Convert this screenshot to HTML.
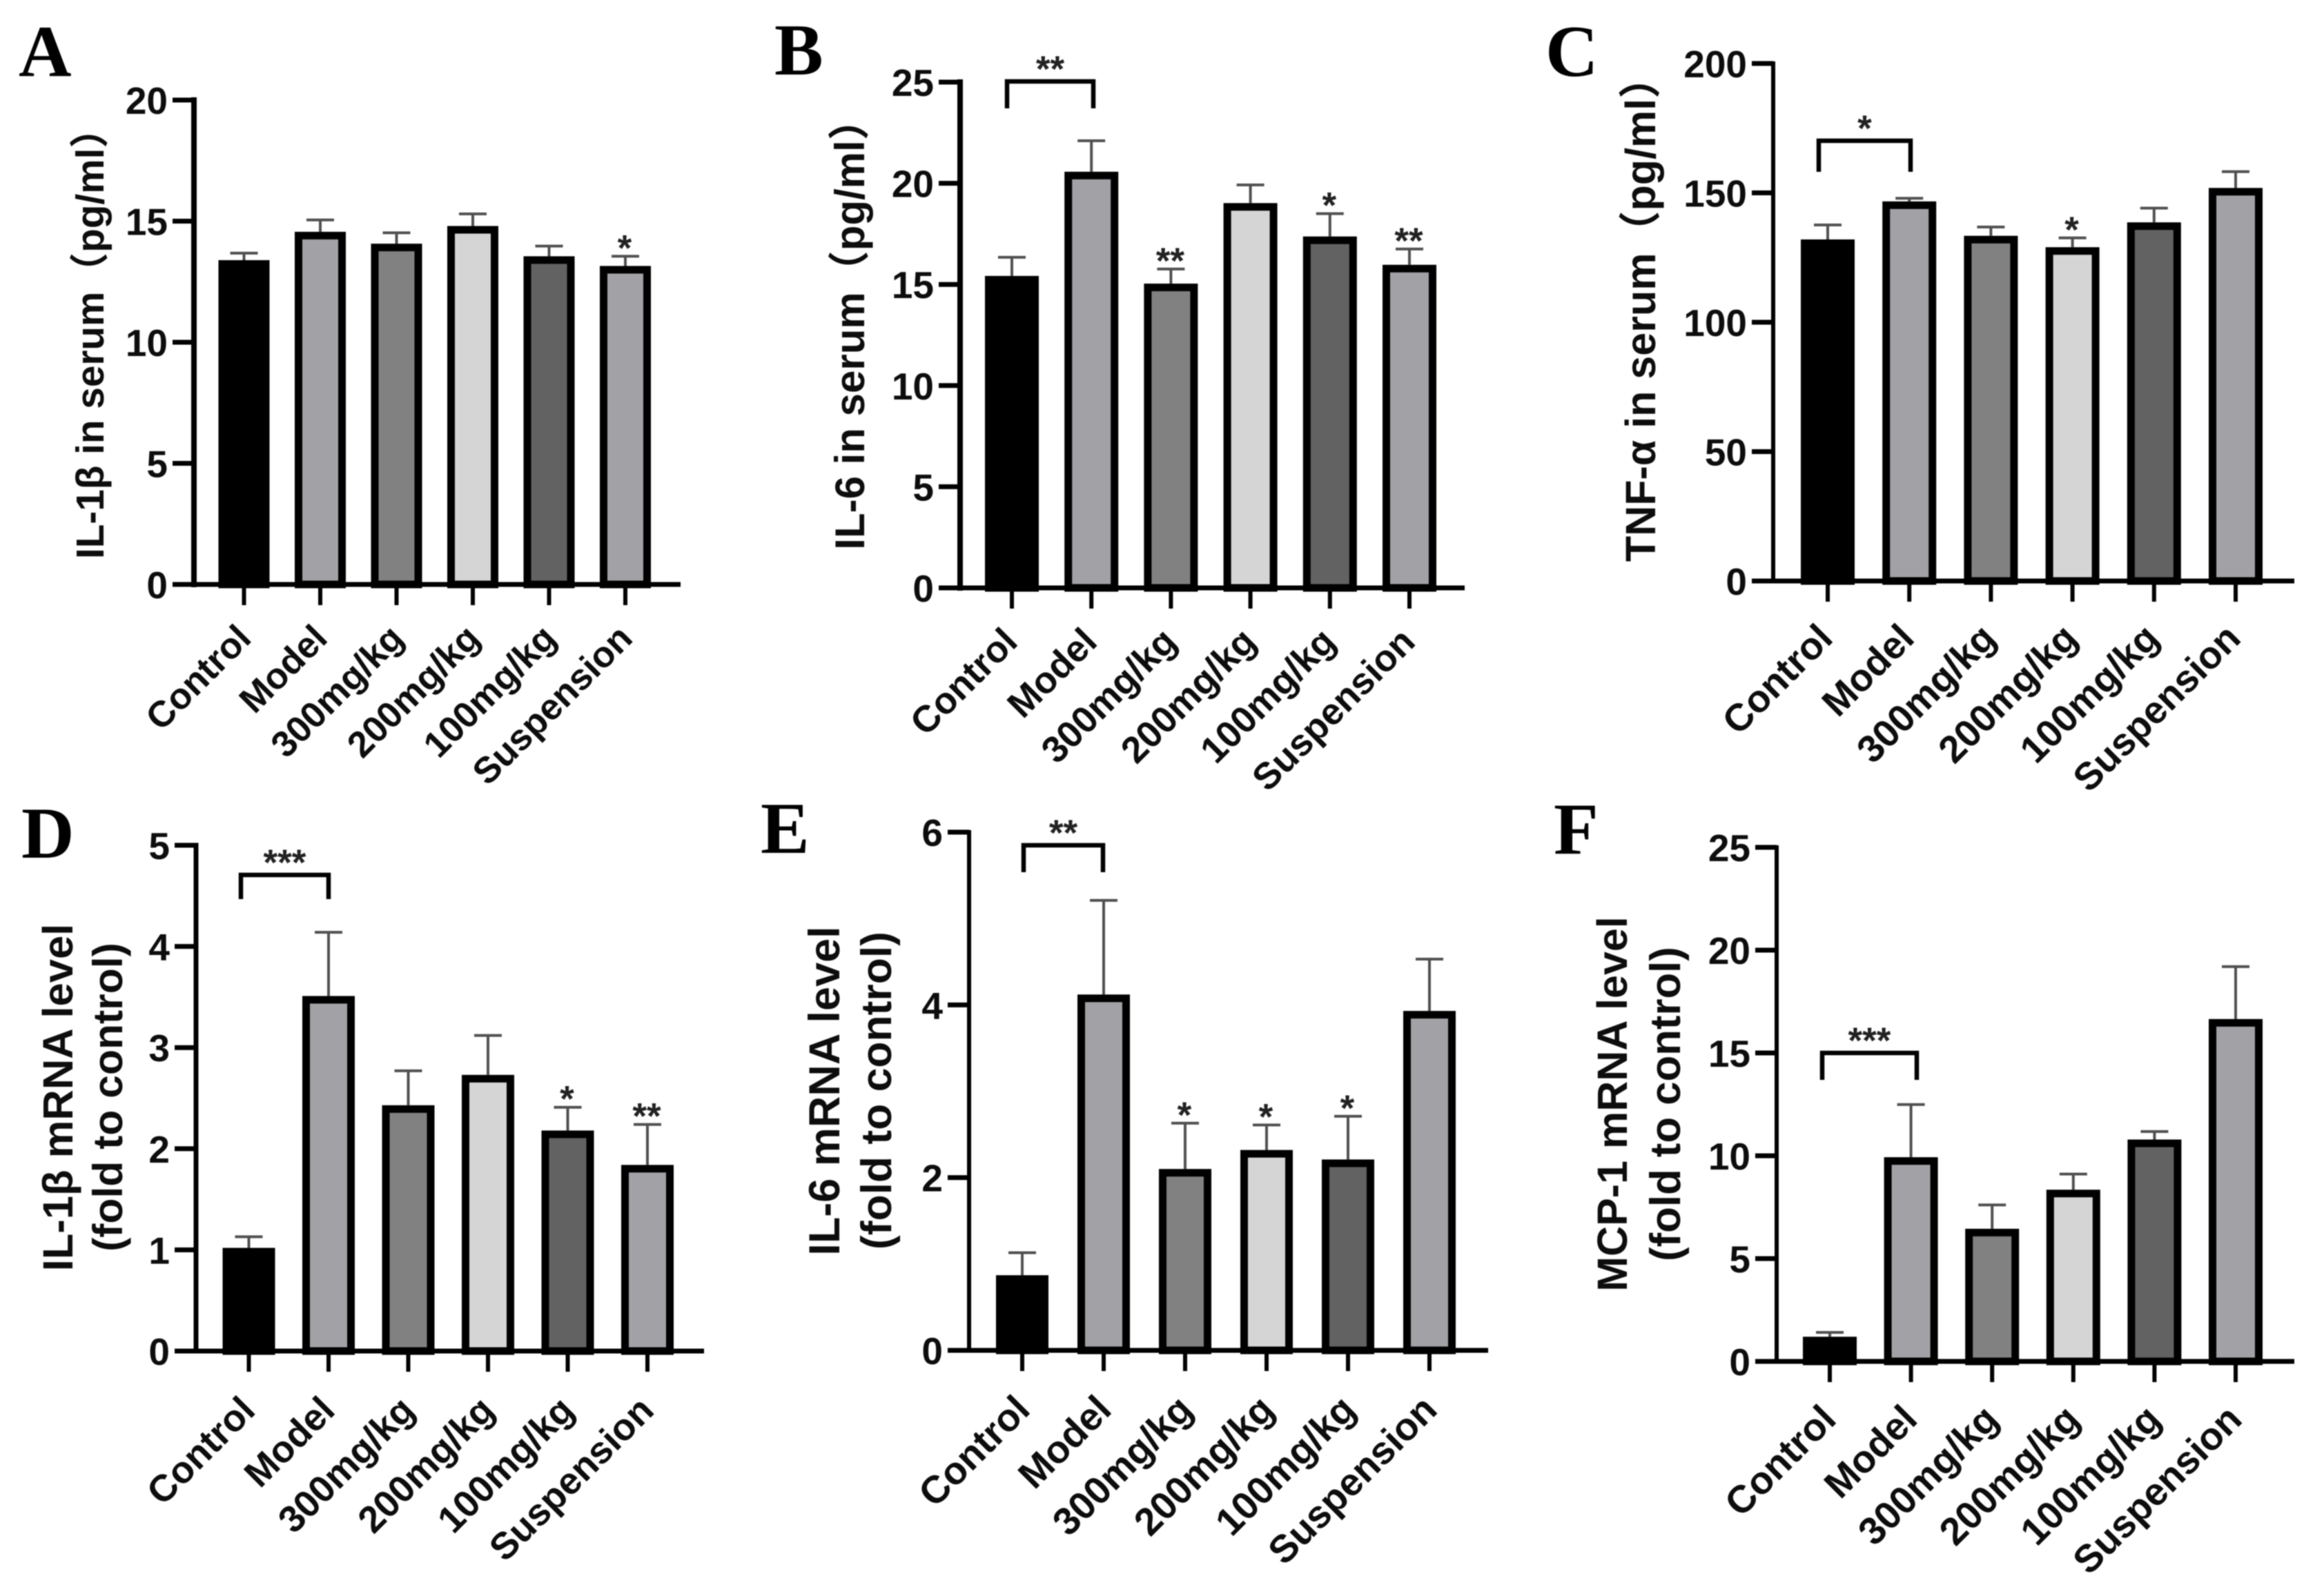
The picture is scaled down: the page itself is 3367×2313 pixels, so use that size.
<!DOCTYPE html>
<html lang="en">
<head>
<meta charset="utf-8">
<title>Serum cytokines and mRNA levels by treatment group</title>
<style>
html,body{margin:0;padding:0;background:#fff;width:3367px;height:2313px;overflow:hidden}
svg{display:block;filter:blur(0.7px)}
text{font-family:"Liberation Sans","Noto Sans CJK SC",sans-serif;fill:#0d0d0d}
.letter{font-family:"Liberation Serif",serif;font-weight:700;font-size:106px;fill:#000}
.ttl{font-weight:700;text-anchor:middle}
.tick{font-weight:700;font-size:55px;text-anchor:end}
.cat{font-weight:700;text-anchor:end}
.sig{font-size:53px;font-weight:700;text-anchor:middle;fill:#222}
</style>
</head>
<body>
<svg id="figure" width="3367" height="2313" viewBox="0 0 3367 2313" xmlns="http://www.w3.org/2000/svg">
  <rect width="3367" height="2313" fill="#fff"/>
  <g id="panel-a">
    <text class="letter" x="27" y="110">A</text>
    <text class="ttl" font-size="56.7" transform="translate(150 484) rotate(-90)">IL-1β in serum（pg/ml）</text>
  </g>
  <g id="panel-b">
    <text class="letter" x="1122" y="108">B</text>
    <text class="ttl" font-size="60" transform="translate(1252 470) rotate(-90)">IL-6 in serum（pg/ml）</text>
  </g>
  <g id="panel-c">
    <text class="letter" x="2239" y="110">C</text>
    <text class="ttl" font-size="61" transform="translate(2398 448) rotate(-90)">TNF-α in serum（pg/ml）</text>
  </g>
  <g id="panel-d">
    <text class="letter" x="31" y="1243">D</text>
    <text class="ttl" font-size="61.5" transform="translate(105 1590.5) rotate(-90)">IL-1β mRNA level</text>
    <text class="ttl" font-size="60.6" transform="translate(177 1590) rotate(-90)">(fold to control)</text>
  </g>
  <g id="panel-e">
    <text class="letter" x="1102" y="1236">E</text>
    <text class="ttl" font-size="63" transform="translate(1216 1581) rotate(-90)">IL-6 mRNA level</text>
    <text class="ttl" font-size="62.4" transform="translate(1291 1580.5) rotate(-90)">(fold to control)</text>
  </g>
  <g id="panel-f">
    <text class="letter" x="2251" y="1237">F</text>
    <text class="ttl" font-size="61" transform="translate(2357 1600) rotate(-90)">MCP-1 mRNA level</text>
    <text class="ttl" font-size="61.7" transform="translate(2434 1600) rotate(-90)">(fold to control)</text>
  </g>
</svg>
<script>
// Shared categories
const categories = ['Control', 'Model', '300mg/kg', '200mg/kg', '100mg/kg', 'Suspension'];

// Panel A: IL-1β in serum
const aTicks = [0, 5, 10, 15, 20];
const aValues = [13.39, 14.56, 14.07, 14.8, 13.55, 13.15];
const aUpper = [13.68, 15.05, 14.52, 15.3, 13.97, 13.55];
const aSig = ['', '', '', '', '', '*'];

// Panel B: IL-6 in serum
const bTicks = [0, 5, 10, 15, 20, 25];
const bValues = [15.42, 20.57, 15.04, 19.02, 17.37, 15.97];
const bUpper = [16.34, 22.1, 15.76, 19.92, 18.5, 16.75];
const bSig = ['', '', '**', '', '*', '**'];

// Panel C: TNF-α in serum
const cTicks = [0, 50, 100, 150, 200];
const cValues = [132, 146.7, 133.4, 129, 138.6, 151.9];
const cUpper = [137.6, 147.9, 136.8, 132.6, 144.1, 158.2];
const cSig = ['', '', '', '*', '', ''];

// Panel D: IL-1β mRNA
const dTicks = [0, 1, 2, 3, 4, 5];
const dValues = [1.02, 3.51, 2.43, 2.73, 2.18, 1.84];
const dUpper = [1.13, 4.14, 2.77, 3.12, 2.41, 2.24];
const dSig = ['', '', '', '', '*', '**'];

// Panel E: IL-6 mRNA
const eTicks = [0, 2, 4, 6];
const eValues = [0.87, 4.12, 2.10, 2.32, 2.21, 3.93];
const eUpper = [1.13, 5.21, 2.63, 2.61, 2.71, 4.53];
const eSig = ['', '', '*', '*', '*', ''];

// Panel F: MCP-1 mRNA
const fTicks = [0, 5, 10, 15, 20, 25];
const fValues = [1.2, 9.93, 6.45, 8.35, 10.79, 16.65];
const fUpper = [1.41, 12.49, 7.61, 9.11, 11.18, 19.2];
const fSig = ['', '', '', '', '', ''];

const SVGNS = 'http://www.w3.org/2000/svg';
const barFills = ['#000000', '#a2a2a6', '#818181', '#d5d5d5', '#626262', '#a2a2a6'];

function mk(parent, tag, attrs, text) {
  const e = document.createElementNS(SVGNS, tag);
  for (const k in attrs) e.setAttribute(k, attrs[k]);
  if (text !== undefined) e.textContent = text;
  parent.appendChild(e);
  return e;
}

function drawPanel(id, p) {
  const g = document.getElementById('panel-' + id);
  const max = p.ticks[p.ticks.length - 1];
  const yScale = v => p.y0 + (p.yTop - p.y0) * v / max;
  const xScale = i => p.xFirst + p.step * i;
  const sw = 11;

  // bars and error bars
  p.values.forEach((v, i) => {
    const cx = xScale(i);
    const yv = yScale(v);
    const yu = yScale(p.upper[i]);

    const stem = mk(g, 'line', {x1: cx, x2: cx, y1: yv, y2: yu, stroke: '#505050', 'stroke-width': 4});
    
    

    const cap = mk(g, 'line', {x1: cx - p.cap, x2: cx + p.cap, y1: yu, y2: yu, stroke: '#505050', 'stroke-width': 4});
    
    

    const bar = mk(g, 'rect', {
      x: cx - p.barW / 2 + sw / 2,
      y: yv + sw / 2,
      width: p.barW - sw,
      height: Math.max(0, p.y0 - yv - sw / 2),
      fill: barFills[i],
      stroke: '#000',
      'stroke-width': sw
    });
    
    

    if (p.sig[i]) {
      const s = mk(g, 'text', {class: 'sig', x: cx - 1, y: yu + 6}, p.sig[i]);
      
      
    }

    const tk = mk(g, 'line', {x1: cx, x2: cx, y1: p.y0, y2: p.y0 + 30, stroke: '#000', 'stroke-width': 6});
    
    

    const lx = cx + p.labelDx;
    const ly = p.y0 + p.labelDy;
    const lab = mk(g, 'text', {class: 'cat', 'font-size': p.catSize, transform: 'translate(' + lx + ' ' + ly + ') rotate(-45)'}, categories[i]);
    
    
  });

  // axes
  const half = p.axisW / 2;
  const yAxis = mk(g, 'line', {x1: p.axisX, x2: p.axisX, y1: p.yTop - half, y2: p.y0 + half, stroke: '#000', 'stroke-width': p.axisW});
  
  

  const xAxis = mk(g, 'line', {x1: p.axisX - 31, x2: p.axisEnd, y1: p.y0, y2: p.y0, stroke: '#000', 'stroke-width': 7});
  
  

  p.ticks.forEach(t => {
    const y = yScale(t);
    const tk = mk(g, 'line', {x1: p.axisX - 31, x2: p.axisX, y1: y, y2: y, stroke: '#000', 'stroke-width': 7});
    
    

    const lb = mk(g, 'text', {class: 'tick', x: p.axisX - 38, y: y + 20}, t);
    
    
  });

  // comparison bracket between Control and Model
  if (p.bracket) {
    const b = p.bracket;
    const path = mk(g, 'path', {
      d: 'M' + b.x1 + ' ' + b.yBottom + 'V' + b.yTop + 'H' + b.x2 + 'V' + b.yBottom,
      fill: 'none', stroke: '#000', 'stroke-width': 6.5
    });
    
    

    const st = mk(g, 'text', {class: 'sig', x: (b.x1 + b.x2) / 2, y: b.yTop}, b.label);
    
    
  }
}

drawPanel('a', {ticks: aTicks, values: aValues, upper: aUpper, sig: aSig,
  axisX: 281, axisW: 8, axisEnd: 986, yTop: 145, y0: 847, xFirst: 353.5, step: 110.5, barW: 74, cap: 20,
  labelDx: 13, labelDy: 81, catSize: 53});
drawPanel('b', {ticks: bTicks, values: bValues, upper: bUpper, sig: bSig,
  axisX: 1391, axisW: 8, axisEnd: 2122, yTop: 119, y0: 852, xFirst: 1466, step: 115.2, barW: 78, cap: 20,
  labelDx: 11, labelDy: 81, catSize: 54,
  bracket: {x1: 1459, x2: 1584, yTop: 118, yBottom: 157, label: '**'}});
drawPanel('c', {ticks: cTicks, values: cValues, upper: cUpper, sig: cSig,
  axisX: 2569, axisW: 6, axisEnd: 3324, yTop: 92, y0: 842, xFirst: 2648, step: 118.2, barW: 78, cap: 20,
  labelDx: 10, labelDy: 86, catSize: 55.5,
  bracket: {x1: 2635, x2: 2768, yTop: 204, yBottom: 249, label: '*'}});
drawPanel('d', {ticks: dTicks, values: dValues, upper: dUpper, sig: dSig,
  axisX: 284, axisW: 7, axisEnd: 1020, yTop: 1225, y0: 1958, xFirst: 360.5, step: 115.5, barW: 76, cap: 20,
  labelDx: 12, labelDy: 89, catSize: 54.5,
  bracket: {x1: 349, x2: 476, yTop: 1268, yBottom: 1303, label: '***'}});
drawPanel('e', {ticks: eTicks, values: eValues, upper: eUpper, sig: eSig,
  axisX: 1404, axisW: 6, axisEnd: 2156, yTop: 1206, y0: 1957, xFirst: 1481, step: 118, barW: 76, cap: 20,
  labelDx: 14, labelDy: 89, catSize: 56,
  bracket: {x1: 1483, x2: 1598, yTop: 1225, yBottom: 1264, label: '**'}});
drawPanel('f', {ticks: fTicks, values: fValues, upper: fUpper, sig: fSig,
  axisX: 2574, axisW: 6, axisEnd: 3324, yTop: 1228, y0: 1973, xFirst: 2651, step: 117.6, barW: 78, cap: 20,
  labelDx: 12, labelDy: 87, catSize: 56,
  bracket: {x1: 2640, x2: 2777, yTop: 1526, yBottom: 1565, label: '***'}});
</script>
</body>
</html>
